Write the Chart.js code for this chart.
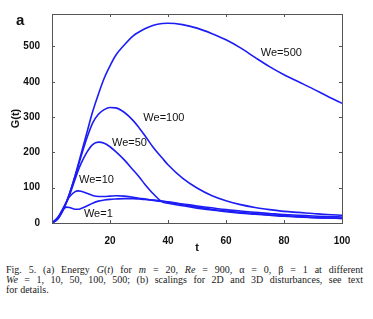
<!DOCTYPE html>
<html>
<head>
<meta charset="utf-8">
<script src="https://cdn.jsdelivr.net/npm/chart.js@4"></script>
<style>
  html, body { margin: 0; padding: 0; background: #fff; }
  #wrap { position: absolute; left: 0; top: 0; width: 373px; height: 256px; }
  #panel { position: absolute; left: 16px; top: 11px; font: bold 15px "Liberation Sans", Arial, sans-serif; color: #111; }
  #caption { position: absolute; left: 6px; top: 265px; width: 357px;
    font-family: "Liberation Serif", "Times New Roman", serif; font-size: 10px; line-height: 9.8px; color: #1a1a1a; }
  #caption .j { text-align: justify; text-align-last: justify; }
</style>
</head>
<body>
<div id="wrap"><canvas id="myChart"></canvas></div>
<div id="panel">a</div>
<div id="caption">
  <div class="j">Fig. 5. (a) Energy <i>G</i>(<i>t</i>) for <i>m</i> = 20, <i>Re</i> = 900, α = 0, β = 1 at different</div>
  <div class="j"><i>We</i> = 1, 10, 50, 100, 500; (b) scalings for 2D and 3D disturbances, see text</div>
  <div>for details.</div>
</div>
<script>
// time samples shared by all curves
const tValues = [0, 2, 4, 5, 6, 8, 9, 10, 12, 14, 16, 18, 20, 22, 25, 28, 30, 32, 35, 38,
                 40, 45, 50, 55, 60, 65, 70, 75, 80, 85, 90, 95, 100];

// G(t), one array per Weber number
const g500 = [0, 12, 40, 60, 82, 135, 165, 195, 255, 315, 365, 410, 445, 475, 505, 530, 541, 550, 560, 565,
              566, 562, 552, 537, 519, 496, 469, 443, 420, 400, 380, 359, 339];
const g100 = [0, 12, 40, 60, 82, 133, 160, 188, 240, 283, 308, 321, 327, 326, 313, 290, 270, 248, 213, 184,
              165, 127, 99, 78, 63, 52, 44, 38, 33, 30, 27, 24, 22];
const g50  = [0, 12, 40, 58, 78, 125, 148, 168, 200, 222, 229, 226, 216, 202, 178, 150, 131, 110, 82, 60,
              56, 49, 42, 37, 32, 28, 25, 22, 19, 17, 15, 14, 13];
const g10  = [0, 14, 45, 60, 74, 89, 91, 90, 84, 78, 75, 75, 76, 77, 76, 73, 70, 68, 64, 61,
              60, 54, 48, 43, 38, 34, 30, 27, 24, 22, 20, 18, 17];
const g1   = [0, 16, 40, 45, 44, 39, 39, 41, 48, 56, 62, 65, 67, 68, 69, 69, 68, 67, 65, 62,
              59, 52, 45, 39, 34, 30, 27, 23, 21, 18, 16, 14, 13];

// curve labels and where they sit (data units)
const labelText = ['We=500', 'We=100', 'We=50', 'We=10', 'We=1'];
const labelT = [72, 31.5, 20.7, 9.3, 11];
const labelG = [482, 297, 226, 122, 25];

const xTicks = [20, 40, 60, 80, 100];
const yTicks = [0, 100, 200, 300, 400, 500];

const series = [g500, g100, g50, g10, g1];
const blue = '#1c1cf5';

const datasets = series.map((vals, i) => ({
  label: labelText[i],
  data: tValues.map((t, k) => ({ x: t, y: vals[k] })),
  borderColor: blue,
  borderWidth: 1.6,
  pointRadius: 0,
  fill: false,
  cubicInterpolationMode: 'monotone'
}));

// MATLAB style box with inward ticks, plus the curve labels
const boxPlugin = {
  id: 'box',
  afterDatasetsDraw(chart) {
    const { ctx, chartArea: a, scales: { x, y } } = chart;
    ctx.save();
    ctx.strokeStyle = '#555';
    ctx.lineWidth = 1;
    ctx.strokeRect(Math.round(a.left) + 0.5, Math.round(a.top) + 0.5,
      Math.round(a.right - a.left), Math.round(a.bottom - a.top));
    ctx.beginPath();
    xTicks.forEach(v => {
      if (v >= 100) return;
      const px = Math.round(x.getPixelForValue(v)) + 0.5;
      ctx.moveTo(px, a.bottom); ctx.lineTo(px, a.bottom - 3);
      ctx.moveTo(px, a.top); ctx.lineTo(px, a.top + 3);
    });
    yTicks.forEach(v => {
      if (v <= 0) return;
      const py = Math.round(y.getPixelForValue(v)) + 0.5;
      ctx.moveTo(a.left, py); ctx.lineTo(a.left + 3, py);
      ctx.moveTo(a.right, py); ctx.lineTo(a.right - 3, py);
    });
    ctx.stroke();

    ctx.fillStyle = '#111';
    ctx.font = '11px "Liberation Sans", Arial, sans-serif';
    ctx.textAlign = 'left';
    ctx.textBaseline = 'middle';
    labelText.forEach((txt, i) => {
      ctx.fillText(txt, x.getPixelForValue(labelT[i]), y.getPixelForValue(labelG[i]));
    });
    ctx.restore();
  }
};

const tickFont = { family: '"Liberation Sans", Arial, sans-serif', size: 10, weight: 'bold' };
const titleFont = { family: '"Liberation Sans", Arial, sans-serif', size: 11, weight: 'bold' };

const ctx = document.getElementById('myChart').getContext('2d');
new Chart(ctx, {
  type: 'line',
  data: { datasets },
  plugins: [boxPlugin],
  options: {
    responsive: true,
    maintainAspectRatio: false,
    animation: false,
    layout: { padding: { left: 0, right: 31, top: 14, bottom: 0 } },
    plugins: { legend: { display: false }, tooltip: { enabled: false } },
    scales: {
      x: {
        type: 'linear',
        min: 0, max: 100,
        grid: { display: false },
        border: { display: false },
        afterBuildTicks: s => { s.ticks = xTicks.map(v => ({ value: v })); },
        ticks: { padding: 4, color: '#111', font: tickFont, maxRotation: 0, autoSkip: false },
        title: { display: true, text: 't', color: '#111', padding: { top: 0, bottom: 1 }, font: titleFont },
        afterFit: s => { s.height = 33; }
      },
      y: {
        type: 'linear',
        min: 0, max: 592,
        grid: { display: false },
        border: { display: false },
        afterBuildTicks: s => { s.ticks = yTicks.map(v => ({ value: v })); },
        ticks: { padding: 4, color: '#111', font: tickFont, autoSkip: false },
        title: { display: true, text: 'G(t)', color: '#111', padding: { top: 9, bottom: 0 }, font: titleFont },
        afterFit: s => { s.width = 52; }
      }
    }
  }
});
</script>
</body>
</html>
